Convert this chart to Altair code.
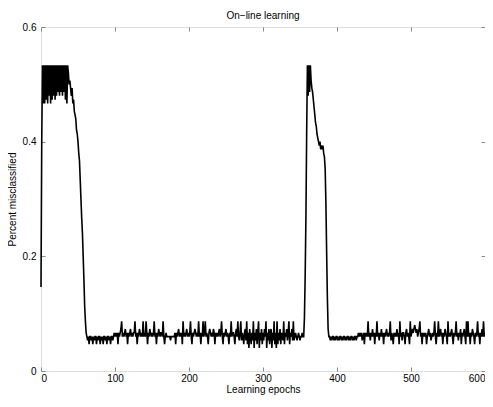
import altair as alt
import pandas as pd

# Misclassified samples per epoch (out of 150)
HUMP1 = [22, 60, 80, 70, 80, 70, 80, 71, 80, 70, 80, 72, 80, 70, 80, 71, 80, 72, 80, 71,
         80, 72, 80, 73, 80, 72, 80, 73, 80, 72, 80, 73, 80, 71, 80, 70, 80, 78, 75, 76,
         74, 72, 74, 70, 71, 68, 67, 66, 63, 62, 60, 57, 55, 50, 45, 40, 36, 30, 24, 17,
         13, 10]
LOW1 = [9, 8, 9, 7, 9, 9, 8, 9, 7, 9, 8, 9, 9, 7, 9, 8, 9, 9, 7, 9, 8, 9, 7, 9, 9, 8,
        9, 7, 9, 9, 8, 9, 7, 9, 9, 8]
NOISE1 = [9, 10,
          9, 10, 9, 10, 7, 10, 9, 10, 11, 13,
          9, 10, 9, 10, 11, 9, 10, 7, 10, 9,
          10, 11, 9, 10, 9, 10, 10, 13, 9, 10,
          7, 10, 9, 11, 10, 9, 10, 9, 13, 9,
          10, 9, 13, 10, 7, 10, 9, 11, 10, 9,
          10, 9, 10, 13, 9, 10, 7, 10, 9, 11,
          10, 9, 10, 10, 9, 13, 9, 7, 9, 10,
          9, 9, 9, 9, 9, 8, 9, 9, 9, 9,
          9, 10, 7, 10, 9, 10, 11, 9, 10, 9,
          10, 7, 13, 9, 10, 9, 10, 11, 9, 10,
          9, 10, 13, 9, 7, 10, 9, 10, 11, 10,
          9, 10, 9, 13, 9, 10, 7, 10, 9, 13,
          9, 10, 13, 9, 10, 9, 7, 10, 11, 10,
          9, 10, 9, 11, 10, 7, 10, 9, 10, 9,
          10, 11, 9, 10, 13, 9, 7, 10, 9, 10,
          11, 9, 10, 9, 7, 10, 9, 13, 9, 10,
          10, 9, 7, 10, 11, 9, 13, 9, 8, 10,
          13, 8, 10, 9, 7, 10, 11, 8, 13, 7,
          10, 6, 11, 9, 7, 10, 8, 13, 6, 10,
          8, 11, 7, 10, 13, 6, 10, 8, 11, 7,
          10, 8, 11, 9, 13, 6, 10, 8, 11, 7,
          10, 11, 6, 10, 8, 13, 7, 10, 6, 13,
          7, 10, 8, 11, 7, 10, 9, 8, 13, 7,
          10, 9, 11, 8, 10, 13, 7, 10, 9, 11,
          8, 13, 8, 9, 10, 9, 8, 9, 10, 9,
          8, 9, 9, 10, 9]
HUMP2 = [9, 14, 25, 40, 62, 80, 72, 80, 73, 80, 76, 74, 73, 71, 69, 67, 65, 64, 62, 61,
         60, 59, 60, 58, 59, 58, 59, 57, 56, 53, 44, 31, 19, 11, 9]
LOW2 = [9, 8, 9, 8, 9, 9, 8, 9, 8, 9, 9, 8, 9, 8, 9, 9, 8, 9, 8, 9, 9, 8, 9, 8, 9,
        9, 8, 9, 8, 9, 9, 8, 9, 8, 9, 9, 8, 9, 9, 10, 9]
NOISE2 = [10, 9, 10, 8, 9, 10, 7, 10, 9,
          10, 9, 13, 9, 10, 8, 10, 9, 11, 9,
          10, 7, 10, 9, 13, 9, 10, 8, 10, 9,
          11, 9, 10, 7, 10, 9, 10, 11, 9, 10,
          9, 10, 13, 8, 10, 9, 7, 10, 9, 10,
          9, 11, 9, 10, 7, 13, 9, 10, 8, 10,
          10, 9, 7, 10, 11, 9, 10, 9, 7, 13,
          9, 10, 11, 10, 11, 12, 11, 10, 11, 9,
          10, 11, 13, 9, 10, 7, 10, 9, 10, 9,
          10, 7, 9, 10, 11, 9, 10, 8, 9, 10,
          9, 10, 13, 9, 7, 10, 9, 13, 9, 10,
          11, 9, 10, 7, 10, 9, 11, 10, 9, 7,
          13, 9, 10, 9, 10, 11, 9, 7, 10, 9,
          10, 13, 9, 10, 8, 10, 9, 11, 7, 10,
          9, 10, 11, 9, 7, 13, 9, 13, 9, 10,
          7, 10, 9, 11, 10, 9, 7, 10, 9, 10,
          13, 9, 10, 7, 10, 9, 11, 9, 13, 9,
          10]
SAMPLES = 150
XTICKS = [0, 100, 200, 300, 400, 500, 600]
YTICKS = [0, 0.2, 0.4, 0.6]

counts = HUMP1 + LOW1 + NOISE1 + HUMP2 + LOW2 + NOISE2
df = pd.DataFrame({
    "epoch": list(range(len(counts))),
    "err": [c / SAMPLES for c in counts],
})

W, H = 444, 344
FONT = "Liberation Sans"
xs = alt.Scale(domain=[0, 600], nice=False, zero=False)
ys = alt.Scale(domain=[0, 0.6], nice=False)

base = alt.Chart(df)

main = base.mark_line(color="black", strokeWidth=1.6).encode(
    x=alt.X("epoch:Q", scale=xs,
            axis=alt.Axis(orient="bottom", values=XTICKS, format="d",
                          title="Learning epochs", ticks=False, domain=False,
                          grid=False, labelPadding=2, titlePadding=1,
                          titleFontWeight="normal", titleFont=FONT, titleFontSize=10,
                          labelFont=FONT, labelFontSize=10)),
    y=alt.Y("err:Q", scale=ys,
            axis=alt.Axis(orient="left", values=YTICKS, format="~g",
                          title="Percent misclassified", ticks=False, domain=False,
                          grid=False, labelPadding=5, titlePadding=5,
                          titleFontWeight="normal", titleFont=FONT, titleFontSize=10,
                          labelFont=FONT, labelFontSize=10)),
)

inner1 = base.mark_line(strokeOpacity=0).encode(
    x=alt.X("epoch:Q", scale=xs,
            axis=alt.Axis(orient="top", offset=-H, values=XTICKS, labels=False,
                          tickSize=4, domain=False, grid=False, title=None)),
    y=alt.Y("err:Q", scale=ys,
            axis=alt.Axis(orient="right", offset=-W, values=YTICKS, labels=False,
                          tickSize=4, domain=False, grid=False, title=None)),
)

inner2 = base.mark_line(strokeOpacity=0).encode(
    x=alt.X("epoch:Q", scale=xs,
            axis=alt.Axis(orient="bottom", offset=-H, values=XTICKS, labels=False,
                          tickSize=4, domain=False, grid=False, title=None)),
    y=alt.Y("err:Q", scale=ys,
            axis=alt.Axis(orient="left", offset=-W, values=YTICKS, labels=False,
                          tickSize=4, domain=False, grid=False, title=None)),
)

chart = alt.layer(main, inner1, inner2).resolve_axis(
    x="independent", y="independent"
).properties(
    width=W,
    height=H,
    title=alt.TitleParams("On\u2212line learning", fontSize=10, font=FONT,
                          fontWeight="normal", color="black", offset=1,
                          anchor="middle", frame="group"),
    autosize=alt.AutoSizeParams(type="none"),
    padding={"left": 33, "top": 19, "right": 0, "bottom": 28},
).configure_view(
    stroke="black", strokeWidth=1
).configure_axis(
    labelFont=FONT, titleFont=FONT, labelFontSize=10, titleFontSize=10,
    labelColor="black", titleColor="black", tickColor="black", tickWidth=1,
    titleFontWeight="normal"
).configure(background="white")

chart.save("out.html", embed_options={"renderer": "svg", "actions": False})
